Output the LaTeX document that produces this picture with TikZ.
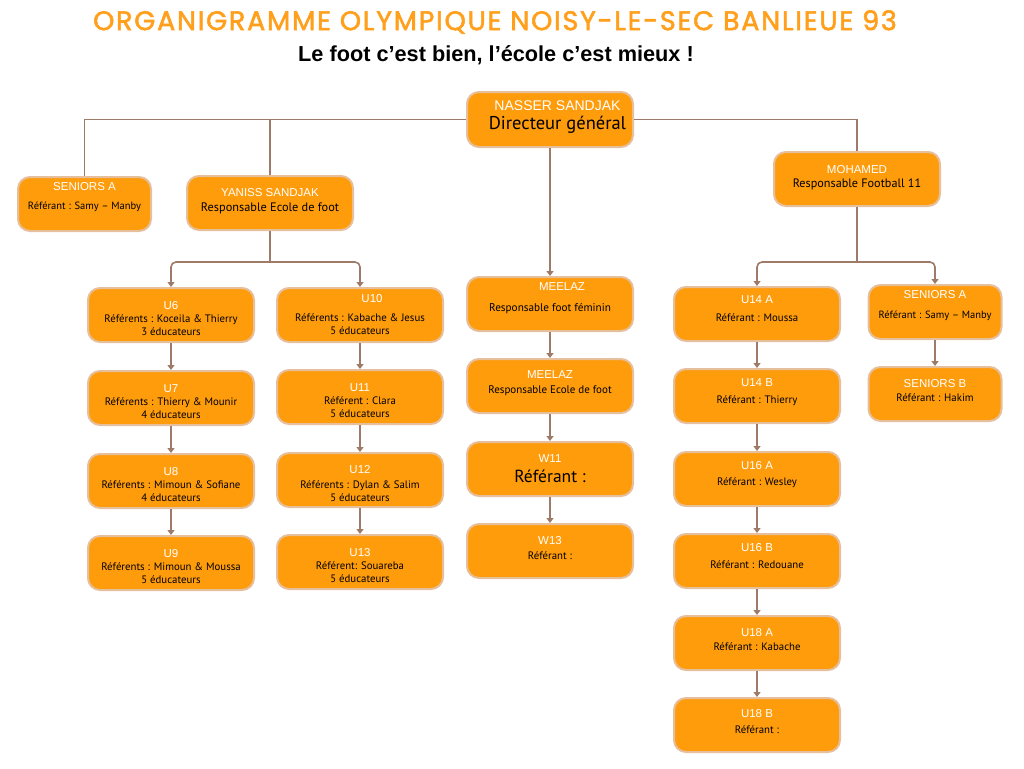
\documentclass[tikz,border=0pt]{standalone}
\usepackage{fontspec}
\setmainfont{PT Sans}
\newfontfamily\titlefont[FakeBold=2,LetterSpace=6.5]{Poppins}
\newfontfamily\headfont{Liberation Sans}
\newfontfamily\mottofont{Liberation Sans}
\usetikzlibrary{arrows.meta}
\definecolor{boxfill}{HTML}{FF9C0C}
\definecolor{boxline}{HTML}{E6C09C}
\definecolor{linkcol}{HTML}{9E7B68}
\definecolor{titlecol}{HTML}{FF9F1C}
\begin{document}
\begin{tikzpicture}[x=1pt,y=-1pt]
            \tikzset{
                box/.style={draw=boxline, line width=2pt, fill=boxfill, rounded corners=12pt,
                    minimum width=166pt, minimum height=54pt, align=center, inner sep=2pt,
                    font=\fontsize{10.8}{13}\selectfont},
                small/.style={box, minimum width=133pt},
                link/.style={draw=linkcol, line width=1.6pt},
                arr/.style={link, -{Triangle[width=7pt,length=5pt]}},}
            \def\hd#1{{\headfont\fontsize{11.5}{14}\selectfont\color{white}#1}}
            \def\lift#1{\rule[-#1pt]{0pt}{0pt}}
            \def\drop{\rule{0pt}{15pt}}
            \useasboundingbox (0,0) rectangle (1024,768);
            \node (title) at (495,22) {\titlefont\fontsize{27}{30}\selectfont\color{titlecol}ORGANIGRAMME OLYMPIQUE NOISY-LE-SEC BANLIEUE 93};
            \node (motto) at (496,55) {\mottofont\bfseries\fontsize{21.7}{24}\selectfont Le foot c’est bien, l’école c’est mieux !};
            % direction
            \node [box, minimum height=55pt] (nasser) at (550,119.5) {\hspace*{15pt}{\headfont\fontsize{14}{16}\selectfont\color{white}NASSER SANDJAK}\\[5pt]\hspace*{15pt}{\fontsize{18.5}{20}\selectfont Directeur général}\lift{9}};
            \node [small] (senA) at (84.5,204) {\hd{SENIORS A}\\[6pt]\fontsize{10.5}{13}\selectfont Référant : Samy – Manby\lift{16}};
            \node [box] (yaniss) at (270,203) {\hd{YANISS SANDJAK}\\[2pt]\fontsize{12.3}{14}\selectfont Responsable Ecole de foot\lift{6}};
            \node [box] (mohamed) at (857,179) {\hd{MOHAMED}\\[1pt]\fontsize{12.2}{14}\selectfont Responsable Football 11\lift{5}};
            % ecole de foot
            \node [box] (u6) at (171,315) {\hd{\drop U6}\\Référents : Koceila \& Thierry\\3 éducateurs};
            \node [box] (u7) at (171,398) {\hd{\drop U7}\\Référents : Thierry \& Mounir\\4 éducateurs};
            \node [box] (u8) at (171,481) {\hd{\drop U8}\\Référents : Mimoun \& Sofiane\\4 éducateurs};
            \node [box] (u9) at (171,563) {\hd{\drop U9}\\Référents : Mimoun \& Moussa\\5 éducateurs};
            \node [box] (u10) at (360,315) {\hd{\hspace*{24pt}U10}\\[6pt]Référents : Kabache \& Jesus\\5 éducateurs};
            \node [box] (u11) at (360,397) {\hd{\drop U11}\\Référent : Clara\\5 éducateurs};
            \node [box] (u12) at (360,480) {\hd{\drop U12}\\[2pt]Référents : Dylan \& Salim\\5 éducateurs};
            \node [box] (u13) at (360,562) {\hd{\drop U13}\\Référent: Souareba\\5 éducateurs};
            % foot feminin
            \node [box] (meelaz) at (550,304) {\hd{\hspace*{24pt}MEELAZ}\\[8pt]\fontsize{11.2}{13}\selectfont Responsable foot féminin\lift{14}};
            \node [box] (meelazB) at (550,386) {\hd{MEELAZ}\\[2pt]\fontsize{11}{13}\selectfont Responsable Ecole de foot\lift{8}};
            \node [box] (w11) at (550,469) {\hd{W11}\\[7pt]{\fontsize{17.5}{19}\selectfont Référant :}};
            \node [box] (w13) at (550,551) {\hd{W13}\\[2pt]Référant :\lift{6}};
            % football 11
            \node [box] (u14a) at (757,314) {\hd{U14 A}\\[5pt]Référant : Moussa\lift{11}};
            \node [box] (u14b) at (757,396) {\hd{U14 B}\\[4pt]Référant : Thierry\lift{10}};
            \node [box] (u16a) at (757,479) {\hd{U16 A}\\[3pt]Référant : Wesley\lift{11}};
            \node [box] (u16b) at (757,561) {\hd{U16 B}\\[4pt]Référant : Redouane\lift{10}};
            \node [box] (u18a) at (757,643) {\hd{U18 A}\\[1pt]Référant : Kabache\lift{8}};
            \node [box] (u18b) at (757,725) {\hd{U18 B}\\[3pt]Référant :\lift{7}};
            \node [small] (senA2) at (935,312) {\hd{SENIORS A}\\[7pt]\fontsize{10.5}{13}\selectfont Référant : Samy – Manby\lift{15}};
            \node [small] (senB) at (935,394) {\hd{SENIORS B}\\[1pt]Référant : Hakim\lift{7}};
            % liens
            \draw [link] (nasser.west) -| (senA.north);
            \draw [link] (yaniss.north |- nasser.west) -- (yaniss.north);
            \draw [link] (nasser.east) -| (mohamed.north);
            \draw [arr] (nasser.south) -- (meelaz.north);
            \coordinate (ybus) at (270,262);
            \coordinate (mbus) at (857,262);
            \draw [link] (yaniss.south) -- (ybus);
            \draw [link] (mohamed.south) -- (mbus);
            \foreach \t in {u6,u10}
                \draw [arr, rounded corners=5pt] (ybus) -| (\t.north);
            \foreach \t in {u14a,senA2}
                \draw [arr, rounded corners=5pt] (mbus) -| (\t.north);
            \foreach \a/\b in {u6/u7,u7/u8,u8/u9,u10/u11,u11/u12,u12/u13,meelaz/meelazB,meelazB/w11,w11/w13,u14a/u14b,u14b/u16a,u16a/u16b,u16b/u18a,u18a/u18b,senA2/senB}
                \draw [arr] (\a.south) -- (\b.north);
        \end{tikzpicture}
\end{document}
